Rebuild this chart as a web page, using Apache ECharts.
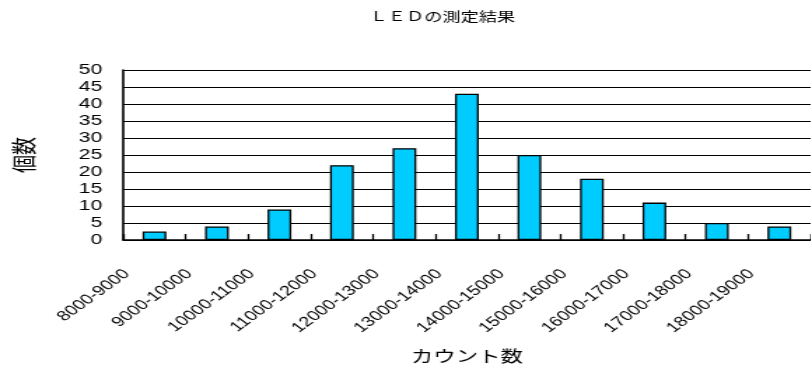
<!DOCTYPE html>
<html>
<head>
<meta charset="utf-8">
<script src="https://cdn.jsdelivr.net/npm/echarts@6/dist/echarts.min.js"></script>
<style>
  html, body { margin: 0; padding: 0; background: #fff; overflow: hidden; }
  /* the chart is laid out narrow and widened horizontally */
  #chart { width: 580px; height: 367px; transform: scaleX(1.4); transform-origin: 0 0; }
</style>
</head>
<body>
<div id="chart"></div>
<script>
// count ranges (x categories)
const ranges = [
  '8000-9000', '9000-10000', '10000-11000', '11000-12000', '12000-13000',
  '13000-14000', '14000-15000', '15000-16000', '16000-17000', '17000-18000',
  '18000-19000'
];
// number of LEDs in each range
const counts = [2.5, 4, 9, 22, 27, 43, 25, 18, 11, 5, 4];
// value axis range
const yMin = 0;
const yMax = 50;
const yStep = 5;

const latin = '"Liberation Sans", Arial, sans-serif';
const cjk = '"Noto Sans CJK JP", "Liberation Sans", sans-serif';

const chart = echarts.init(document.getElementById('chart'), null, { renderer: 'canvas' });
chart.setOption({
  animation: false,
  backgroundColor: '#fff',
  title: {
    text: 'ＬＥＤの測定結果',
    left: 259,
    top: 5,
    textStyle: { fontFamily: cjk, fontSize: 13, fontWeight: 'normal', color: '#000' }
  },
  grid: { left: 88, right: 1, top: 70, bottom: 127, containLabel: false },
  xAxis: {
    type: 'category',
    data: ranges,
    name: 'カウント数',
    nameLocation: 'middle',
    nameGap: 108,
    nameTextStyle: { fontFamily: cjk, fontSize: 16, color: '#000' },
    axisLine: { show: true, lineStyle: { color: '#000', width: 1.5 } },
    axisTick: { show: true, inside: true, length: 6, lineStyle: { color: '#000', width: 1.3 } },
    axisLabel: {
      interval: 0,
      rotate: 45,
      margin: 12,
      padding: [0, 28, 0, 0],
      fontFamily: latin,
      fontSize: 14,
      color: '#000'
    }
  },
  yAxis: {
    type: 'value',
    min: yMin,
    max: yMax,
    interval: yStep,
    name: '個数',
    nameLocation: 'middle',
    nameGap: 62,
    nameTextStyle: { fontFamily: cjk, fontSize: 18, color: '#000' },
    axisLine: { show: true, lineStyle: { color: '#000', width: 1.6 } },
    axisTick: { show: false },
    axisLabel: { margin: 15, fontFamily: latin, fontSize: 15, color: '#000' },
    splitLine: { show: true, lineStyle: { color: '#000', width: 1 } }
  },
  series: [{
    type: 'bar',
    data: counts,
    barWidth: '38%',
    itemStyle: { color: '#00CCFF', borderColor: '#000', borderWidth: 1.3 }
  }]
});
</script>
</body>
</html>
